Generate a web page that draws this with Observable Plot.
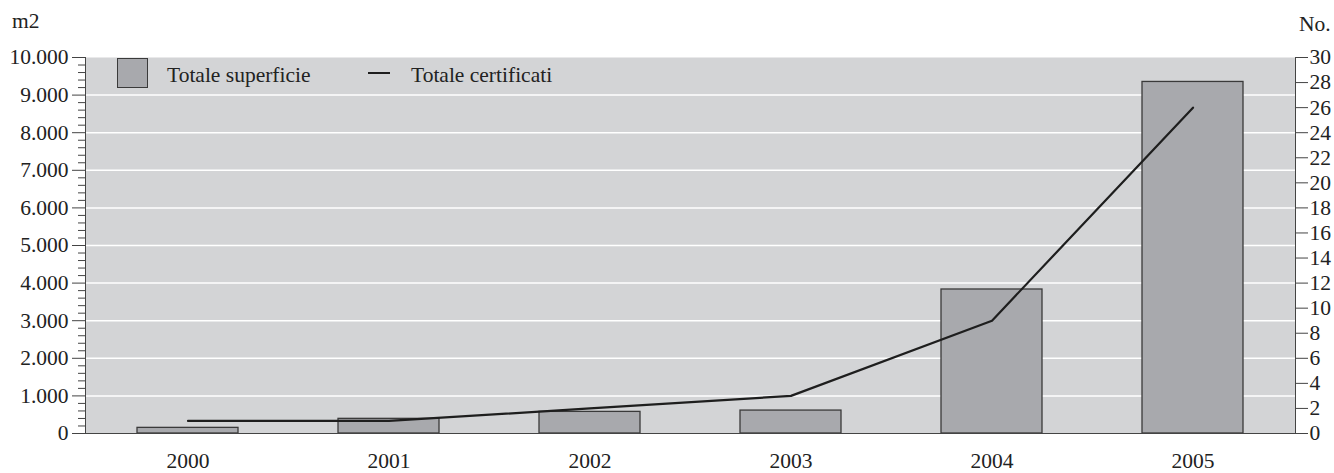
<!DOCTYPE html>
<html><head><meta charset="utf-8">
<script src="https://cdn.jsdelivr.net/npm/d3@7"></script>
<script src="https://cdn.jsdelivr.net/npm/@observablehq/plot@0.6"></script>
<style>
body{margin:0;background:#fff;font-family:"Liberation Serif",serif;}
#wrap{position:relative;width:1334px;height:473px;}
#wrap svg{position:absolute;left:0;top:0;}
.lbl{position:absolute;font-size:21.5px;color:#222;line-height:22px;white-space:nowrap;}
.sw{position:absolute;box-sizing:border-box;}
</style></head><body>
<div id="wrap">
</div>
<script>
const years = ["2000", "2001", "2002", "2003", "2004", "2005"];
const superficie = [150, 390, 575, 610, 3830, 9350];
const certificati = [1, 1, 2, 3, 9, 26];
const leftTicks = d3.range(0, 10001, 1000);
const minorTicks = d3.range(0, 10001, 200).filter(v => v % 1000 !== 0);
const rightTicks = d3.range(0, 31, 2);
const seriesNames = ["Totale superficie", "Totale certificati"];
const unitLeft = "m2", unitRight = "No.";
const leftMax = 10000, rightMax = 30;
const k = leftMax / rightMax;

const data = years.map((year, i) => ({year, superficie: superficie[i], certificati: certificati[i]}));
const fmt = v => d3.format(",")(v).replace(/,/g, ".");
const bg = "#d3d4d6", barFill = "#a8a9ad", barStroke = "#3a3a3a", lineCol = "#1e1e1e", axisCol = "#444";

const plot = Plot.plot({
  width: 1334, height: 473,
  marginLeft: 85, marginRight: 39, marginTop: 57, marginBottom: 40,
  style: {fontFamily: "Liberation Serif", fontSize: "21.5px", color: "#222", background: "transparent", overflow: "visible"},
  x: {type: "band", domain: years, paddingInner: 0.5, paddingOuter: 0.25, label: null},
  y: {domain: [0, leftMax], label: null},
  marks: [
    Plot.frame({fill: bg, stroke: "none"}),
    Plot.ruleY(leftTicks.filter(v => v > 0 && v < leftMax), {stroke: "#fff", strokeWidth: 1.5}),
    Plot.barY(data, {x: "year", y: "superficie", fill: barFill, stroke: barStroke, strokeWidth: 1.3}),
    Plot.line(data, {x: "year", y: d => d.certificati * k, stroke: lineCol, strokeWidth: 2.2}),
    Plot.frame({anchor: "left", stroke: axisCol}),
    Plot.frame({anchor: "right", stroke: axisCol}),
    Plot.ruleY([0], {stroke: axisCol, strokeWidth: 1.2}),
    Plot.axisY(leftTicks, {anchor: "left", tickSize: 13, tickPadding: 4, tickFormat: fmt, label: null, stroke: axisCol}),
    Plot.axisY(minorTicks, {anchor: "left", tickSize: 7, fill: "none", label: null, stroke: axisCol}),
    Plot.axisY(rightTicks.map(v => v * k), {anchor: "right", tickSize: 12, tickPadding: 2, tickFormat: v => String(Math.round(v / k)), label: null, stroke: axisCol}),
    Plot.axisX({tickSize: 0, tickPadding: 19, label: null})
  ]
});
const wrap = document.getElementById("wrap");
wrap.appendChild(plot);

function add(cls, css, text) {
  const d = document.createElement("div");
  d.className = cls;
  d.style.cssText = css;
  if (text) d.textContent = text;
  wrap.appendChild(d);
}
add("lbl", "left:12px;top:10px;", unitLeft);
add("lbl", "left:1299px;top:13px;", unitRight);
add("sw", `left:117px;top:58px;width:31px;height:30px;background:${barFill};border:1.3px solid ${barStroke};`);
add("lbl", "left:167px;top:64px;", seriesNames[0]);
add("sw", `left:368px;top:72px;width:22px;height:2px;background:${lineCol};`);
add("lbl", "left:411px;top:64px;", seriesNames[1]);
</script>
</body></html>
